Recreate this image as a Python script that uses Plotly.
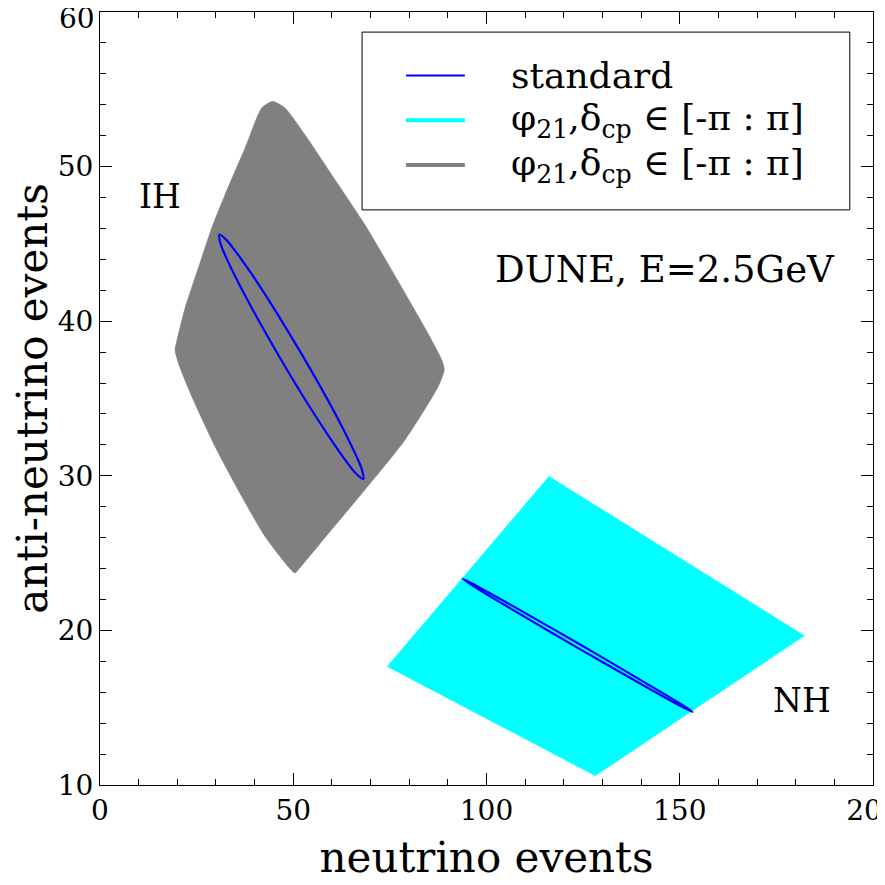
import plotly.graph_objects as go

# ── Data ───────────────────────────────────────────────────────────────────

# IH region (grey), outline going clockwise from the top corner
ih_region_x = [44.66, 47.87, 53.04, 59.95, 68.56, 77.18, 84.09, 88.41, 89.08, 87.52,
               78.91, 68.56, 58.21, 51.31, 50.45, 42.69, 36.66, 29.75, 23.72, 20.26,
               19.40, 19.84, 22.00, 25.43, 28.90, 32.34, 37.52, 41.84, 44.66]
ih_region_y = [54.22, 53.79, 52.06, 49.48, 46.24, 42.57, 39.56, 37.51, 36.86, 35.78,
               32.32, 29.10, 26.00, 23.93, 23.71, 26.08, 28.67, 31.90, 35.14, 37.30,
               38.16, 38.69, 40.85, 43.44, 46.03, 48.18, 51.20, 53.79, 54.22]

# NH region (cyan), four corners
nh_region_x = [116.17, 182.23, 128.15, 74.33, 116.17]
nh_region_y = [29.96, 19.66, 10.60, 17.67, 29.96]

# standard oscillation ellipse, IH
ih_std_x = [30.87, 32.68, 34.67, 39.18, 44.83, 51.79, 57.99, 62.88, 66.29, 67.83, 68.12,
            66.32, 63.76, 59.29, 53.67, 47.20, 40.55, 35.69, 32.32, 31.16, 30.87]
ih_std_y = [45.60, 45.26, 44.65, 43.07, 40.90, 38.03, 35.33, 33.05, 31.29, 30.35, 29.79,
            30.13, 30.92, 32.52, 34.69, 37.36, 40.27, 42.55, 44.31, 45.04, 45.60]

# standard oscillation ellipse, NH (very thin)
nh_std_x = [93.82, 97.22, 105.14, 123.78, 142.31, 150.06, 153.35,
            149.83, 141.91, 123.26, 104.73, 96.98, 93.82]
nh_std_y = [23.34, 22.91, 21.81, 19.15, 16.43, 15.27, 14.72,
            15.16, 16.26, 18.92, 21.64, 22.81, 23.34]

# y tick labels; the top one is nudged inside the page like gnuplot does
y_tickvals = [10, 20, 30, 40, 50, 60]
y_ticktext = ["10", "20", "30", "40", "50", ""]

LEGEND_NAMES = ["standard",
                "φ<sub>21</sub>,δ<sub>cp</sub> ∈ [-π : π]",
                "φ<sub>21</sub>,δ<sub>cp</sub> ∈ [-π : π]"]

FONT = "DejaVu Serif"
BLUE, CYAN, GREY = "#0000ff", "#00ffff", "#808080"
LEGEND_COLORS = [BLUE, CYAN, GREY]
LEGEND_WIDTHS = [2, 4, 4]

fig = go.Figure()

# filled regions
fig.add_trace(go.Scatter(
    x=ih_region_x, y=ih_region_y, mode="lines", fill="toself", name="IH",
    fillcolor=GREY, line={"color": GREY, "width": 0.5, "shape": "spline", "smoothing": 0.6},
    showlegend=False, hoverinfo="skip",
))
fig.add_trace(go.Scatter(
    x=nh_region_x, y=nh_region_y, mode="lines", fill="toself", name="NH",
    fillcolor=CYAN, line={"color": CYAN, "width": 0.5},
    showlegend=False, hoverinfo="skip",
))

# standard ellipses
for xs, ys in [(ih_std_x, ih_std_y), (nh_std_x, nh_std_y)]:
    fig.add_trace(go.Scatter(
        x=xs, y=ys, mode="lines", name="standard",
        line={"color": BLUE, "width": 2.2, "shape": "spline", "smoothing": 1.0},
        showlegend=False,
    ))

# text labels
fig.add_annotation(x=15.5, y=48.05, text="IH", showarrow=False,
                   font={"size": 33, "color": "black"})
fig.add_annotation(x=181.5, y=15.47, text="NH", showarrow=False,
                   font={"size": 33, "color": "black"})
fig.add_annotation(x=146.3, y=43.33, text="DUNE, E=2.5GeV", showarrow=False,
                   font={"size": 37, "color": "black"})
fig.add_annotation(xref="paper", yref="paper", x=-0.004, y=0.991,
                   xanchor="right", yanchor="middle", text=str(y_tickvals[-1]),
                   showarrow=False, font={"size": 28, "color": "black"})

# legend box, gnuplot style (paper coords of the plot area)
fig.add_shape(type="rect", xref="paper", yref="paper",
              x0=0.339, x1=0.970, y0=0.744, y1=0.974,
              line={"color": "black", "width": 1}, fillcolor="white", layer="above")
for i, (name, col, w) in enumerate(zip(LEGEND_NAMES, LEGEND_COLORS, LEGEND_WIDTHS)):
    yy = 0.918 - i * 0.058
    fig.add_shape(type="line", xref="paper", yref="paper",
                  x0=0.396, x1=0.472, y0=yy, y1=yy,
                  line={"color": col, "width": w}, layer="above")
    fig.add_annotation(xref="paper", yref="paper", x=0.529, y=yy,
                       xanchor="left", yanchor="middle", text=name,
                       showarrow=False, font={"size": 36, "color": "black"})

axis_common = {
    "showgrid": False, "zeroline": False, "automargin": False,
    "showline": True, "linecolor": "black", "linewidth": 1,
    "mirror": "allticks", "ticks": "inside", "ticklen": 12,
    "tickwidth": 1, "tickcolor": "black", "ticklabeloverflow": "allow",
    "tickfont": {"size": 28, "color": "black"},
    "title_font": {"size": 42, "color": "black"},
}

# the page body adds an 8px margin, so the figure is 877px and offsets are 8px smaller
fig.update_layout(
    width=877, height=877,
    paper_bgcolor="white", plot_bgcolor="white",
    font={"family": FONT, "color": "black"},
    margin={"l": 92, "r": 12, "t": 4, "b": 100},
    xaxis={**axis_common, "range": [0, 200], "dtick": 50, "tick0": 0,
           "minor": {"ticks": "inside", "dtick": 10, "ticklen": 6,
                     "tickcolor": "black", "showgrid": False},
           "title": {"text": "neutrino events", "standoff": 17}},
    yaxis={**axis_common, "range": [10, 60],
           "tickmode": "array", "tickvals": y_tickvals, "ticktext": y_ticktext,
           "minor": {"ticks": "inside", "dtick": 2, "ticklen": 6,
                     "tickcolor": "black", "showgrid": False},
           "title": {"text": "anti-neutrino events", "standoff": 10}},
    showlegend=False,
)

fig.write_html("out.html")
